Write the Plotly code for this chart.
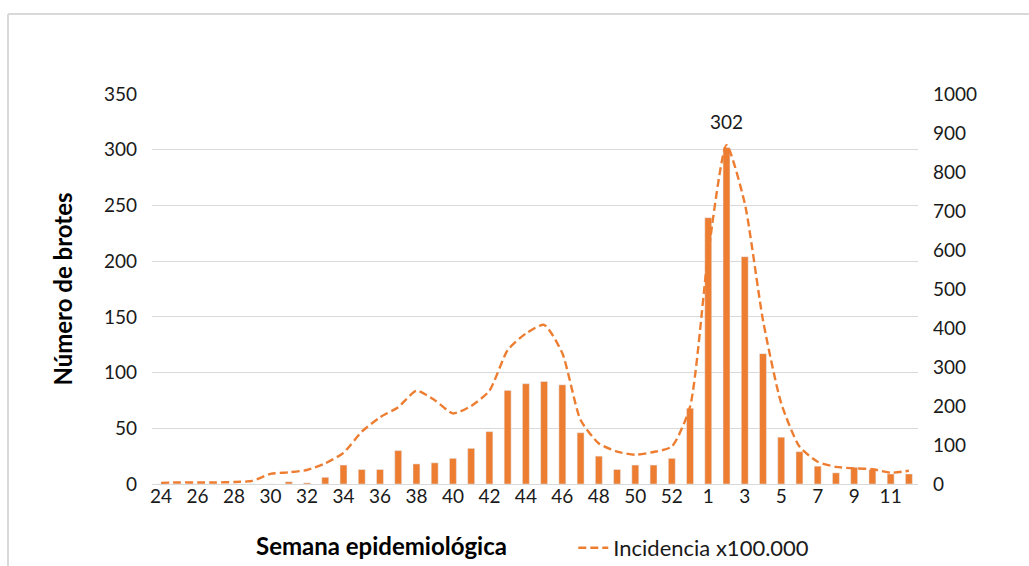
import plotly.graph_objects as go

semanas = [str(s) for s in range(24, 54)] + [str(s) for s in range(1, 13)]

brotes = [0, 0, 0, 0, 0, 0, 0, 2, 1, 6,
          17, 13, 13, 30, 18, 19, 23, 32, 47, 84,
          90, 92, 89, 46, 25, 13, 17, 17, 23, 68,
          239, 302, 204, 117, 42, 29, 16, 10, 15, 13,
          9, 9]

incidencia = [3, 4, 4, 4, 5, 8, 26, 30, 36, 53,
              80, 134, 171, 197, 239, 215, 181, 200, 239, 343,
              386, 408, 335, 164, 104, 83, 75, 82, 96, 198,
              591, 869, 720, 420, 207, 96, 57, 44, 40, 38,
              29, 34]

etiquetas = semanas[::2]

naranja = "#ED7D31"
texto = "#1a1a1a"
fuente = "Lato"

fig = go.Figure()
fig.add_trace(go.Bar(
    x=semanas, y=brotes,
    marker_color=naranja,
    showlegend=False,
    name="Brotes",
))
fig.add_trace(go.Scatter(
    x=semanas, y=incidencia,
    mode="lines",
    line=dict(color=naranja, width=2.4, dash="8px,4px", shape="spline", smoothing=0.6),
    name="Incidencia x100.000",
    yaxis="y2",
))

# etiqueta del maximo
pico = brotes.index(max(brotes))
fig.add_annotation(x=pico, y=brotes[pico], text=str(brotes[pico]), showarrow=False, yshift=26,
                   font=dict(size=19, color=texto, family=fuente))
fig.add_annotation(xref="paper", yref="paper", x=-0.118, y=0.5, xanchor="center", yanchor="middle",
                   text="<b>Número de brotes</b>", textangle=-90, showarrow=False,
                   font=dict(size=24, color="black", family=fuente))
fig.add_annotation(xref="paper", yref="paper", x=0.299, y=-0.158, xanchor="center", yanchor="middle",
                   text="<b>Semana epidemiológica</b>", showarrow=False,
                   font=dict(size=24, color="black", family=fuente))

# borde del area del grafico
fig.add_shape(type="line", xref="paper", yref="paper", x0=-0.188, x1=-0.188, y0=1.205, y1=-0.25,
              line=dict(color="#d9d9d9", width=2))
fig.add_shape(type="line", xref="paper", yref="paper", x0=-0.188, x1=1.2, y0=1.205, y1=1.205,
              line=dict(color="#d9d9d9", width=2))

fig.update_layout(
    width=1029, height=566,
    margin=dict(l=152, r=111, t=94, b=82),
    paper_bgcolor="white",
    plot_bgcolor="white",
    bargap=0.62,
    font=dict(family=fuente, size=19, color=texto),
    legend=dict(orientation="h", x=0.55, xanchor="left",
                yref="container", y=0.032, yanchor="middle",
                font=dict(size=22, color=texto)),
    xaxis=dict(
        type="category",
        tickmode="array", tickvals=etiquetas, ticktext=etiquetas,
        showgrid=False, ticks="", tickangle=0, ticklabelstandoff=-5,
        showline=True, linecolor="#d9d9d9", linewidth=1,
    ),
    yaxis=dict(
        range=[0, 350], dtick=50,
        showgrid=True, gridcolor="#d9d9d9", gridwidth=1,
        zeroline=False, ticks="", ticklabelstandoff=14,
    ),
    yaxis2=dict(
        range=[0, 1000], dtick=100,
        overlaying="y", side="right",
        showgrid=False, zeroline=False, ticks="", ticklabelstandoff=14,
    ),
)

fig.write_html("out.html", config={"displayModeBar": False},
               post_script="document.body.style.margin='0';document.body.style.overflow='hidden';")
